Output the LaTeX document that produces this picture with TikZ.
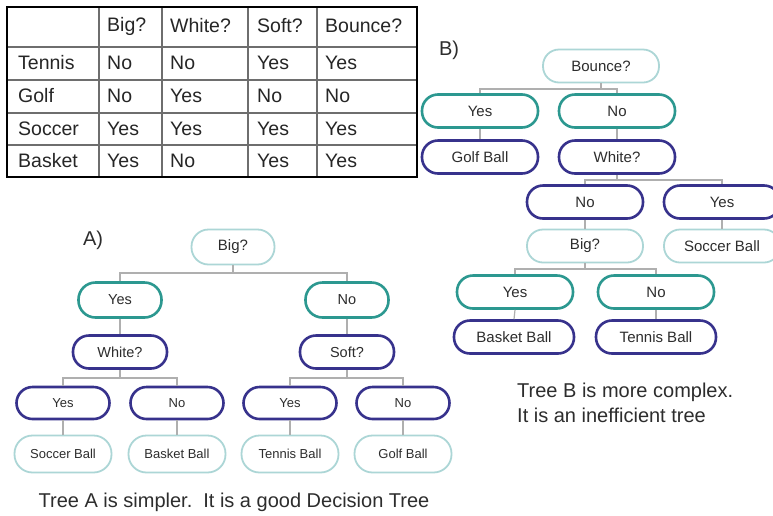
\documentclass[tikz,border=0pt]{standalone}
\usepackage{fontspec}
\setmainfont{Liberation Sans}
\definecolor{ltteal}{RGB}{172,214,214}
\definecolor{teal2}{RGB}{44,152,144}
\definecolor{dblue}{RGB}{55,50,140}
\definecolor{txt}{RGB}{45,45,45}
\definecolor{conngray}{RGB}{175,175,175}
\definecolor{tgray}{RGB}{110,110,110}
\tikzset{
  pill/.style={draw, rounded corners=16pt, inner sep=0pt, text=txt, minimum height=33pt, minimum width=116pt},
  lt/.style={pill, draw=ltteal, line width=1.8pt},
  tl/.style={pill, draw=teal2, line width=2.6pt},
  db/.style={pill, draw=dblue, line width=2.6pt},
  fa/.style={font=\fontsize{14.5}{17}\selectfont},
  fs/.style={font=\fontsize{13}{15}\selectfont},
  fb/.style={font=\fontsize{15}{18}\selectfont},
  aw/.style={minimum width=83pt, minimum height=35pt, rounded corners=17pt},
  as/.style={minimum width=94pt, minimum height=33pt, rounded corners=16pt},
  conn/.style={draw=conngray, line width=1.2pt},
  cell/.style={anchor=west, inner sep=0pt, text=black!85, font=\fontsize{19.5}{22}\selectfont},
  big/.style={text=txt, inner sep=0pt, font=\fontsize{20}{25}\selectfont}
}
\begin{document}
\begin{tikzpicture}[x=1pt,y=-1pt]
\useasboundingbox (0,0) rectangle (773,515);
\clip (0,0) rectangle (773,515);
\fill[white] (0,0) rectangle (773,515);

% ---------- table ----------
\foreach \yy in {47,80,113,145} \draw[tgray, line width=1.2pt] (7,\yy) -- (417,\yy);
\foreach \xx in {99,162,248,317} \draw[tgray, line width=1.2pt] (\xx,7) -- (\xx,177);
\draw[black, line width=2.4pt] (7,7) rectangle (417,177);

\node[cell] (h1) at (107,26) {Big?};
\node[cell] (h2) at (170,26) {White?};
\node[cell] (h3) at (257,26) {Soft?};
\node[cell] (h4) at (325,26) {Bounce?};

\node[cell] (r1c0) at (18,63) {Tennis};
\node[cell] (r1c1) at (107,63) {No};
\node[cell] (r1c2) at (170,63) {No};
\node[cell] (r1c3) at (257,63) {Yes};
\node[cell] (r1c4) at (325,63) {Yes};

\node[cell] (r2c0) at (18,96) {Golf};
\node[cell] (r2c1) at (107,96) {No};
\node[cell] (r2c2) at (170,96) {Yes};
\node[cell] (r2c3) at (257,96) {No};
\node[cell] (r2c4) at (325,96) {No};

\node[cell] (r3c0) at (18,129) {Soccer};
\node[cell] (r3c1) at (107,129) {Yes};
\node[cell] (r3c2) at (170,129) {Yes};
\node[cell] (r3c3) at (257,129) {Yes};
\node[cell] (r3c4) at (325,129) {Yes};

\node[cell] (r4c0) at (18,161) {Basket};
\node[cell] (r4c1) at (107,161) {Yes};
\node[cell] (r4c2) at (170,161) {No};
\node[cell] (r4c3) at (257,161) {Yes};
\node[cell] (r4c4) at (325,161) {Yes};

% ---------- Tree A ----------
\node[big] (labA) at (93,240) {A)};
\node[lt, aw, fb] (aBig) at (233,247) {Big?};
\node[tl, aw, fa] (aYes) at (120,300) {Yes};
\node[tl, aw, fa] (aNo) at (347,300) {No};
\node[db, as, fa] (aWhite) at (120,352) {White?};
\node[db, as, fa] (aSoft) at (347,352) {Soft?};
\node[db, fs, minimum width=93pt, minimum height=32pt] (aY1) at (63,403) {Yes};
\node[db, fs, minimum width=93pt, minimum height=32pt] (aN1) at (177,403) {No};
\node[db, fs, minimum width=93pt, minimum height=32pt] (aY2) at (290,403) {Yes};
\node[db, fs, minimum width=93pt, minimum height=32pt] (aN2) at (403,403) {No};
\node[lt, fs, minimum width=97pt, minimum height=37pt, rounded corners=18pt] (aSoccer) at (63,454) {Soccer Ball};
\node[lt, fs, minimum width=97pt, minimum height=37pt, rounded corners=18pt] (aBasket) at (177,454) {Basket Ball};
\node[lt, fs, minimum width=97pt, minimum height=37pt, rounded corners=18pt] (aTennis) at (290,454) {Tennis Ball};
\node[lt, fs, minimum width=97pt, minimum height=37pt, rounded corners=18pt] (aGolf) at (403,454) {Golf Ball};

\coordinate (barA1) at (0,273);
\coordinate (barA2) at (0,378);
\draw[conn] (aBig.south) -- (aBig.south |- barA1);
\draw[conn] (aYes.north) -- (aYes.north |- barA1) -- (aNo.north |- barA1) -- (aNo.north);
\draw[conn] (aYes.south) -- (aWhite.north);
\draw[conn] (aNo.south) -- (aSoft.north);
\draw[conn] (aWhite.south) -- (aWhite.south |- barA2);
\draw[conn] (aY1.north) -- (aY1.north |- barA2) -- (aN1.north |- barA2) -- (aN1.north);
\draw[conn] (aSoft.south) -- (aSoft.south |- barA2);
\draw[conn] (aY2.north) -- (aY2.north |- barA2) -- (aN2.north |- barA2) -- (aN2.north);
\draw[conn] (aY1.south) -- (aSoccer.north);
\draw[conn] (aN1.south) -- (aBasket.north);
\draw[conn] (aY2.south) -- (aTennis.north);
\draw[conn] (aN2.south) -- (aGolf.north);

\node[big] (txtA) at (234,502) {Tree A is simpler.\hspace{0.55em}It is a good Decision Tree};

% ---------- Tree B ----------
\node[big] (labB) at (449,50) {B)};
\node[lt, fb] (bBounce) at (601,66) {Bounce?};
\node[tl, fb] (bYes) at (480,111) {Yes};
\node[tl, fb] (bNo) at (617,111) {No};
\node[db, fb] (bGolf) at (480,157) {Golf Ball};
\node[db, fb] (bWhite) at (617,157) {White?};
\node[db, fb] (bNo2) at (585,202) {No};
\node[db, fb] (bYes2) at (722,202) {Yes};
\node[lt, fb] (bBig) at (585,246) {Big?};
\node[lt, fb] (bSoccer) at (722,246) {Soccer Ball};
\node[tl, fb] (bYes3) at (515,292) {Yes};
\node[tl, fb] (bNo3) at (656,292) {No};
\node[db, fb, minimum width=120pt] (bBasket) at (514,337) {Basket Ball};
\node[db, fb, minimum width=120pt] (bTennis) at (656,337) {Tennis Ball};

\coordinate (barB1) at (0,89);
\coordinate (barB2) at (0,180);
\coordinate (barB3) at (0,269);
\draw[conn] (bBounce.south) -- (bBounce.south |- barB1);
\draw[conn] (bYes.north) -- (bYes.north |- barB1) -- (bNo.north |- barB1) -- (bNo.north);
\draw[conn] (bYes.south) -- (bGolf.north);
\draw[conn] (bNo.south) -- (bWhite.north);
\draw[conn] (bWhite.south) -- (bWhite.south |- barB2);
\draw[conn] (bNo2.north) -- (bNo2.north |- barB2) -- (bYes2.north |- barB2) -- (bYes2.north);
\draw[conn] (bNo2.south) -- (bBig.north);
\draw[conn] (bYes2.south) -- (bSoccer.north);
\draw[conn] (bBig.south) -- (bBig.south |- barB3);
\draw[conn] (bYes3.north) -- (bYes3.north |- barB3) -- (bNo3.north |- barB3) -- (bNo3.north);
\draw[conn] (bYes3.south) -- (bBasket.north);
\draw[conn] (bNo3.south) -- (bTennis.north);

\node[big, anchor=west, align=left] (txtB) at (517,403) {Tree B is more complex.\\It is an inefficient tree};
\end{tikzpicture}
\end{document}
